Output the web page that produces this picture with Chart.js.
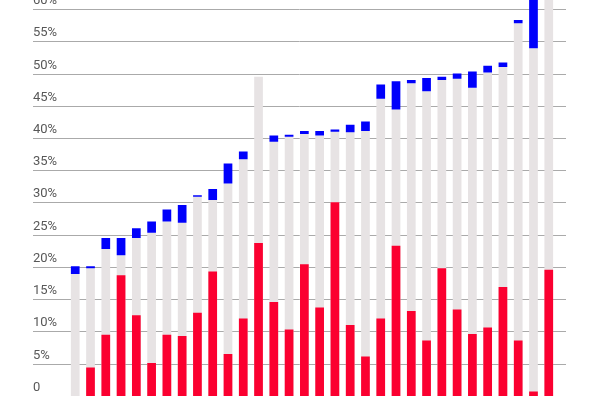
<!DOCTYPE html>
<html>
<head>
<meta charset="utf-8">
<script src="https://cdn.jsdelivr.net/npm/chart.js@4/dist/chart.umd.min.js"></script>
<style>
	html, body { margin: 0; padding: 0; background: #fff; }
	#wrap { width: 600px; height: 400px; position: relative; }
</style>
</head>
<body>
<div id="wrap"><canvas id="chart"></canvas></div>
<script>
// --- data --------------------------------------------------------------------

const categories = Array.from({ length: 32 }, (_, i) => String(i + 1));

// gray column height (also where the blue segment starts)
const baseValues = [18.9, 19.8, 22.8, 21.8, 24.5, 25.3, 27.05, 26.85, 30.9, 30.4, 32.95, 36.7,
	49.5, 39.4, 40.2, 40.6, 40.4, 40.95, 40.9, 41.1, 46.1, 44.4, 48.5, 47.25,
	49.0, 49.2, 47.8, 50.15, 51.0, 57.8, 53.9, 65];

// top of the blue segment
const topValues = [20.1, 20.1, 24.5, 24.5, 26.0, 27.05, 28.9, 29.6, 31.1, 32.1, 36.05, 37.9,
	null, 40.4, 40.5, 41.1, 41.1, 41.3, 42.05, 42.55, 48.3, 48.8, 49.0, 49.3,
	49.5, 50.0, 50.3, 51.2, 51.7, 58.3, 63, null];

// red column
const redValues = [0, 4.4, 9.5, 18.7, 12.5, 5.1, 9.5, 9.3, 12.9, 19.3, 6.5, 12.0,
	23.7, 14.55, 10.3, 20.4, 13.7, 30.05, 11.0, 6.1, 12.0, 23.3, 13.15, 8.6,
	19.8, 13.4, 9.6, 10.6, 16.9, 8.6, 0.7, 19.55];

const yTicks = [0, 5, 10, 15, 20, 25, 30, 35, 40, 45, 50, 55, 60];

// --- helpers -----------------------------------------------------------------

function tickLabel(v) { return v === 0 ? '0' : v + '%'; }

const blueRanges = baseValues.map((b, i) => topValues[i] == null ? null : [b, topValues[i]]);

// grid lines run past the bars on both sides, labels sit above each line
const gridPlugin = {
	id: 'leftGrid',
	beforeDatasetsDraw(chart) {
		const ctx = chart.ctx;
		const y = chart.scales.y;
		ctx.save();
		ctx.font = '13px Roboto, "Noto Sans", sans-serif';
		ctx.fillStyle = '#585858';
		ctx.textAlign = 'left';
		ctx.textBaseline = 'alphabetic';
		yTicks.forEach(v => {
			const py = Math.round(y.getPixelForValue(v)) + 0.5;
			if (v !== 0) {
				ctx.strokeStyle = '#aaaaaa';
				ctx.lineWidth = 1;
				ctx.beginPath();
				ctx.moveTo(33, py);
				ctx.lineTo(566, py);
				ctx.stroke();
			}
			ctx.fillText(tickLabel(v), 33, py - 5.5);
		});
		ctx.restore();
	}
};

// --- chart -------------------------------------------------------------------

new Chart(document.getElementById('chart').getContext('2d'), {
	type: 'bar',
	data: {
		labels: categories,
		datasets: [
			{ label: 'base', data: baseValues, backgroundColor: '#e7e3e4', order: 3 },
			{ label: 'red', data: redValues, backgroundColor: '#fb0030', order: 2 },
			{ label: 'blue', data: blueRanges, backgroundColor: '#0000fb', order: 1 }
		]
	},
	options: {
		responsive: true, maintainAspectRatio: false, animation: false,
		layout: { padding: { left: 67.6, right: 43.6, top: 0, bottom: 4.1 } },
		datasets: { bar: { grouped: false, barPercentage: 0.57, categoryPercentage: 1, borderWidth: 0 } },
		plugins: { legend: { display: false }, tooltip: { enabled: false } },
		scales: {
			x: { display: false, offset: true },
			y: { display: false, min: 0, max: 61.4 }
		}
	},
	plugins: [gridPlugin]
});
</script>
</body>
</html>
